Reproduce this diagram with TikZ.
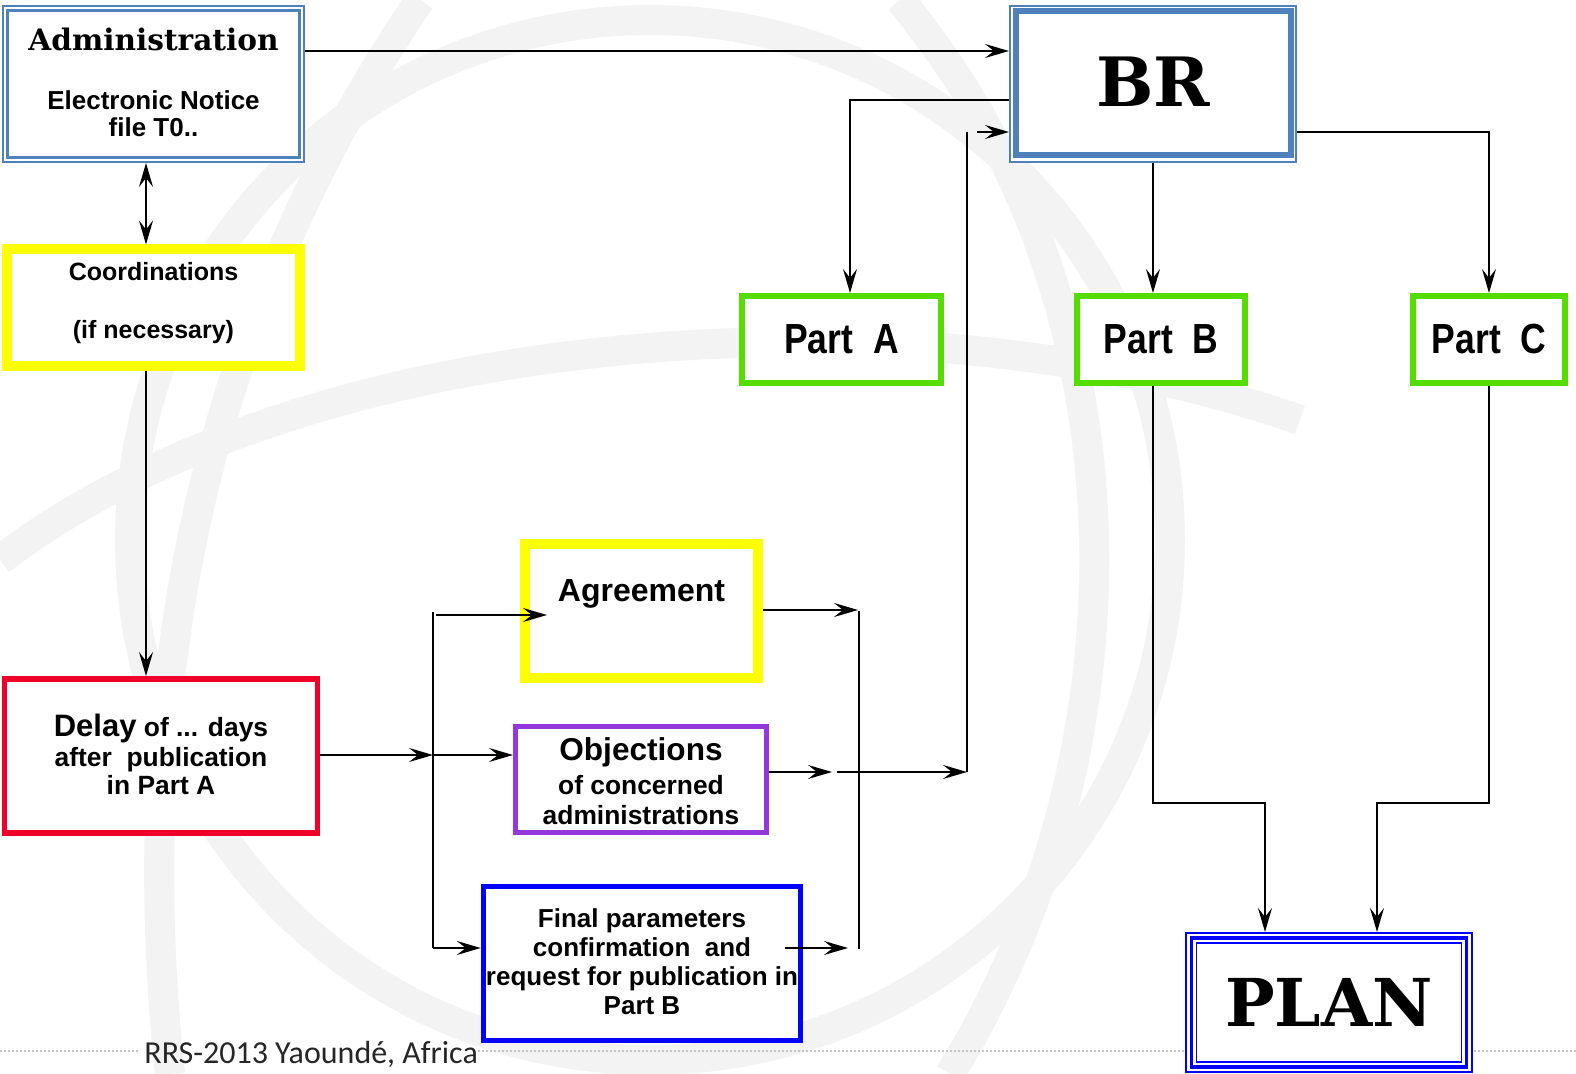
\documentclass[tikz,border=0pt]{standalone}
\usepackage{fontspec}
\setmainfont{Liberation Sans}
\newfontfamily\slabfont{DejaVu Serif}
\newfontfamily\footfont{Carlito}
\usepackage{graphicx}
\usetikzlibrary{arrows.meta}
\definecolor{admblue}{RGB}{79,129,189}
\definecolor{ylw}{RGB}{255,255,0}
\definecolor{grn}{RGB}{85,221,0}
\definecolor{redb}{RGB}{240,0,40}
\definecolor{purp}{RGB}{146,56,220}
\definecolor{pblue}{RGB}{0,0,255}
\definecolor{wmark}{RGB}{243,243,243}
\definecolor{dotgray}{RGB}{195,195,195}
\setlength{\tabcolsep}{0pt}
\begin{document}
\begin{tikzpicture}[x=0.5pt,y=-0.5pt,
  tipA/.tip={Stealth[length=12pt,width=7pt,inset=4.5pt]},
  arr/.style={line width=1pt,-tipA},
  arrboth/.style={line width=1pt,tipA-tipA},
  ln/.style={line width=1pt},
  box/.style={draw,fill=white,inner sep=0pt,anchor=base,rectangle},
  partbox/.style={box,draw=grn,line width=3pt,text height=29pt,text depth=14.5pt,
    font=\bfseries\fontsize{18.3}{20}\selectfont},
  wm/.style={draw=wmark,line width=15pt}
]
\useasboundingbox (0,0) rectangle (1576,1074);
\fill[white] (0,0) rectangle (1576,1074);
% watermark
\draw[wm] (650,540) circle [x radius=260pt, y radius=260pt];
\draw[wm] (420,0) .. controls (250,250) and (120,600) .. (170,1074);
\draw[wm] (900,0) .. controls (1150,300) and (1150,750) .. (950,1074);
\draw[wm] (0,560) .. controls (300,330) and (900,280) .. (1300,420);
% footer dotted line
\draw[dotgray,line width=1.4pt,dash pattern=on 0.8pt off 1.2pt] (0,1051) -- (138,1051);
\draw[dotgray,line width=1.4pt,dash pattern=on 0.8pt off 1.2pt] (478,1051) -- (1576,1051);

% nodes
\node[box,draw=admblue,line width=1.15pt,double=white,double distance=1pt,outer sep=1.65pt,
  minimum width=148.2pt,text height=21.35pt,text depth=54.35pt,
  font=\bfseries\fontsize{13}{13.5}\selectfont] (adm) at (153.5,51)
  {\begin{tabular}[t]{@{}c@{}}{\slabfont\bfseries\fontsize{14.8}{16}\selectfont Administration}\\[16pt]Electronic Notice\\file T0..\end{tabular}};

\node[box,draw=admblue,line width=1pt,minimum width=143pt,text height=50.5pt,text depth=27.5pt,
  font=\slabfont\bfseries\fontsize{34}{40}\selectfont] (br) at (1153,107) {BR};
\draw[admblue,line width=3pt] ([shift={(6.5,6)}]br.north west) rectangle ([shift={(-6.5,-8)}]br.south east);

\node[box,draw=ylw,line width=5pt,minimum width=146.5pt,text height=15.6pt,text depth=42.5pt,
  font=\bfseries\fontsize{12.5}{14}\selectfont] (coo) at (153.5,280.7)
  {\begin{tabular}[t]{@{}c@{}}Coordinations\\[15pt](if necessary)\end{tabular}};

\node[box,draw=redb,line width=2.75pt,minimum width=156.5pt,text height=29.1pt,text depth=48pt,
  font=\bfseries\fontsize{13.2}{14}\selectfont] (del) at (161,737)
  {\begin{tabular}[t]{@{}c@{}}{\fontsize{15.5}{16}\selectfont Delay} of ... days\\[1pt]after~ publication\\in Part A\end{tabular}};

\node[box,draw=ylw,line width=5pt,minimum width=116.5pt,text height=29pt,text depth=38pt,
  font=\bfseries\fontsize{16}{18}\selectfont] (agr) at (641.5,602) {Agreement};

\node[box,draw=purp,line width=2.5pt,minimum width=125.5pt,text height=17.25pt,text depth=35.75pt,
  font=\bfseries\fontsize{13.2}{15}\selectfont] (obj) at (641,761)
  {\begin{tabular}[t]{@{}c@{}}{\fontsize{15.8}{16}\selectfont Objections}\\[2pt]of concerned\\administrations\end{tabular}};

\node[box,draw=pblue,line width=2.75pt,minimum width=158.5pt,text height=20.75pt,text depth=56.25pt,
  font=\bfseries\fontsize{13}{14.5}\selectfont] (fin) at (642,928)
  {\begin{tabular}[t]{@{}c@{}}Final parameters\\confirmation~ and\\request for publication in\\Part B\end{tabular}};

\node[partbox,minimum width=99.5pt] (pa) at (841.5,354) {\scalebox{0.97}[1.15]{Part~~A}};
\node[partbox,minimum width=84pt] (pb) at (1161,354) {\scalebox{0.97}[1.15]{Part~~B}};
\node[partbox,minimum width=76pt] (pc) at (1489,354) {\scalebox{0.97}[1.15]{Part~~C}};

\node[box,draw=pblue,line width=1pt,minimum width=143pt,text height=47pt,text depth=22.5pt,
  font=\slabfont\bfseries\fontsize{33}{38}\selectfont] (plan) at (1329,1027) {PLAN};
\draw[pblue,line width=1.75pt] ([shift={(6.5,6)}]plan.north west) rectangle ([shift={(-6.5,-6)}]plan.south east);
\draw[pblue,line width=0.8pt] ([shift={(11.5,11)}]plan.north west) rectangle ([shift={(-11.5,-11)}]plan.south east);

\node[font=\footfont\fontsize{16}{18}\selectfont,text=black!85,anchor=base west,inner sep=0pt] (foot) at (144,1064) {RRS-2013 Yaoundé, Africa};

% coordinates
\coordinate (vA) at (967,132);
\coordinate (vB) at (967,772);
\coordinate (vS) at (977,132);
\coordinate (oS) at (837,772);
\coordinate (oT) at (832,772);
\coordinate (dJ) at (433,755);
\coordinate (dT) at (433,612);
\coordinate (dB) at (433,948);
\coordinate (aS) at (436,615);
\coordinate (aT) at (547,615);
\coordinate (aJ) at (858,610);
\coordinate (rT) at (859,611);
\coordinate (rB) at (859,949);
\coordinate (fS) at (785,948);
\coordinate (fT) at (848,948);
\coordinate (bL) at (1265,803);
\coordinate (bR) at (1377,803);

% connectors
\draw[arr] (adm.east |- 0,51) -- (br.west |- 0,51);
\draw[arrboth] (adm.south -| 146,0) -- (coo.north -| 146,0);
\draw[arr] (coo.south -| 146,0) -- (del.north -| 146,0);
\draw[arr] (br.west |- 0,100) -| (pa.north -| 850,0);
\draw[ln] (vA) -- (vB);
\draw[arr] (vS) -- (br.west |- vS);
\draw[arr] (oS) -- (vB);
\draw[arr] (obj.east |- oT) -- (oT);
\draw[arr] (del.east |- dJ) -- (dJ);
\draw[arr] (dJ) -- (obj.west |- dJ);
\draw[ln] (dT) -- (dB);
\draw[arr] (aS) -- (aT);
\draw[arr] (dB) -- (fin.west |- dB);
\draw[arr] (agr.east |- aJ) -- (aJ);
\draw[ln] (rT) -- (rB);
\draw[arr] (fS) -- (fT);
\draw[arr] (br.south) -- (pb.north -| br.south);
\draw[arr] (br.east |- vA) -| (pc.north);
\draw[arr] (pb.south -| br.south) |- (bL) -- (plan.north -| bL);
\draw[arr] (pc.south) |- (bR) -- (plan.north -| bR);
\end{tikzpicture}
\end{document}
